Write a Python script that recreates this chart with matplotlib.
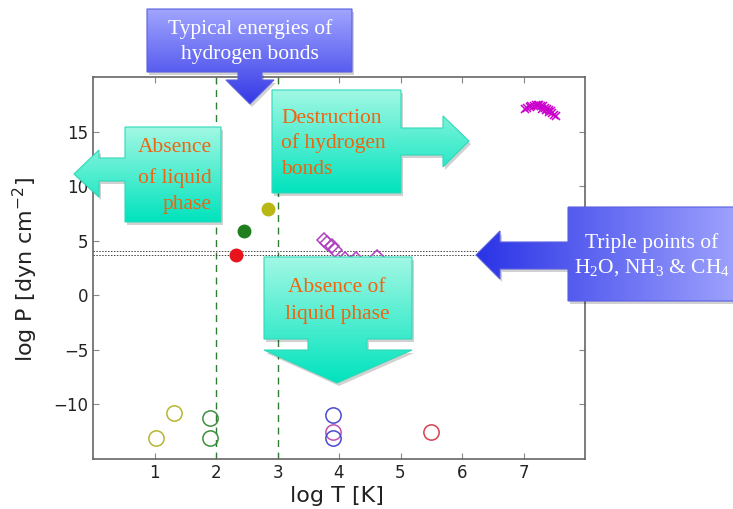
import numpy as np
import matplotlib
matplotlib.use('Agg')
import matplotlib.pyplot as plt
from matplotlib.patches import Polygon
from matplotlib.colors import to_rgb

# ---- data ----
t_filled = [2.33, 2.46, 2.85]
p_filled = [3.73, 5.85, 7.88]
c_filled = ['#e8141b', '#1f7f1f', '#b9b714']

t_open = [1.02, 1.31, 1.91, 1.91, 3.91, 3.91, 3.91, 5.50]
p_open = [-13.05, -10.75, -11.2, -13.1, -11.0, -12.5, -13.1, -12.55]
c_open = ['#b8b530', '#b8b530', '#3d8f3d', '#3d8f3d', '#4a4ad0', '#c050b0', '#4a4ad0', '#d84050']

t_diam = [3.75, 3.81, 3.88, 3.94, 4.09, 4.28, 4.61]
p_diam = [5.02, 4.75, 4.47, 4.19, 3.36, 3.36, 3.55]

t_cross = [7.02, 7.06, 7.10, 7.13, 7.17, 7.20, 7.23, 7.26, 7.29, 7.32, 7.35,
           7.38, 7.41, 7.44, 7.47, 7.50, 7.53, 7.30, 7.36, 7.42]
p_cross = [17.1, 17.2, 17.25, 17.3, 17.35, 17.4, 17.4, 17.4, 17.35, 17.3, 17.2,
           17.1, 17.0, 16.85, 16.7, 16.55, 16.4, 17.1, 16.95, 16.8]

h_bond_T = [2, 3]
triple_P = [4.05, 3.7]

xticks = [1, 2, 3, 4, 5, 6, 7]
yticks = [-10, -5, 0, 5, 10, 15]

fig = plt.figure(figsize=(7.33, 5.09), dpi=100)
ax = fig.add_axes([93/733, 1-459/509, 492/733, 382/509])

for t in h_bond_T:
    ax.axvline(t, color='#2e7d32', ls=(0, (5, 4)), lw=1)
for p in triple_P:
    ax.axhline(p, color='#444444', ls=(0, (1.5, 1.5)), lw=0.7)

for t, p, c in zip(t_open, p_open, c_open):
    ax.plot(t, p, 'o', ms=11, mfc='none', mec=c, mew=1.1)
for t, p, c in zip(t_filled, p_filled, c_filled):
    ax.plot(t, p, 'o', ms=9, color=c)
ax.plot(t_diam, p_diam, 'D', ms=7, mfc='none', mec='#b040c0', mew=1.1, ls='none')
ax.plot(t_cross, p_cross, 'x', ms=6, color='#cc00cc', mew=1.1, ls='none')

ax.set_xlim(0, 8)
ax.set_ylim(-15, 20)
ax.set_xticks(xticks)
ax.set_yticks(yticks)
ax.set_yticklabels(['\u221210', '\u22125', '0', '5', '10', '15'])
ax.tick_params(direction='in', top=True, right=True, length=4, color='#888888',
               labelsize=12, labelcolor='#222222')
for s in ax.spines.values():
    s.set_color('#666666')
    s.set_linewidth(1.2)
ax.set_xlabel('log T [K]', fontsize=16, color='#222222')
ax.set_ylabel(r'log P [dyn cm$^{-2}$]', fontsize=16, color='#222222')
ax.xaxis.set_label_coords(0.496, -0.07)
ax.yaxis.set_label_coords(-0.108, 0.495)

# ---- callout shapes (pixel coordinates, origin top-left) ----
ov = fig.add_axes([0, 0, 1, 1], zorder=5)
ov.axis('off')


def grad_shape(pts, c1, c2, edge, horizontal=False):
    sh = Polygon([(x + 2, y + 3) for x, y in pts], closed=True,
                 facecolor='#000000', alpha=0.18, lw=0)
    ov.add_patch(sh)
    poly = Polygon(pts, closed=True, facecolor='none', edgecolor=edge, lw=0.8, zorder=3)
    ov.add_patch(poly)
    xs = [p[0] for p in pts]
    ys = [p[1] for p in pts]
    a, b = np.array(to_rgb(c1)), np.array(to_rgb(c2))
    f = np.linspace(0, 1, 256)[:, None]
    cols = a + (b - a) * f
    if horizontal:
        img = cols[None, :, :]
    else:
        img = cols[:, None, :]
    im = ov.imshow(img, extent=(min(xs), max(xs), max(ys), min(ys)), origin='upper',
                   aspect='auto', zorder=2, interpolation='bilinear')
    im.set_clip_path(poly)


# typical energies (down arrow)
grad_shape([(147, 9), (352, 9), (352, 72), (262, 72), (262, 80), (274, 80), (250, 104),
            (226, 80), (238, 80), (238, 72), (147, 72)],
           '#a0a5ff', '#3438e6', '#5a5fe0')
# absence of liquid phase (left arrow)
grad_shape([(125, 127), (221, 127), (221, 222), (125, 222), (125, 181), (99, 181),
            (99, 197), (74, 174), (99, 150), (99, 158), (125, 158)],
           '#a2f8e4', '#00e3bd', '#30d8b8')
# destruction (right arrow)
grad_shape([(272, 90), (401, 90), (401, 128), (443, 128), (443, 116), (469, 141),
            (443, 167), (443, 155), (401, 155), (401, 193), (272, 193)],
           '#a2f8e4', '#00e3bd', '#30d8b8')
# absence (down arrow)
grad_shape([(264, 257), (412, 257), (412, 339), (367, 339), (367, 350), (412, 350),
            (337, 383), (264, 350), (308, 350), (308, 339), (264, 339)],
           '#a2f8e4', '#00e3bd', '#30d8b8')
# triple points (left arrow)
grad_shape([(568, 207), (760, 207), (760, 301), (568, 301), (568, 269), (500, 269),
            (500, 279), (476, 255), (500, 231), (500, 242), (568, 242)],
           '#2a33e6', '#a8acff', '#5a5fe0', horizontal=True)

ov.set_xlim(0, 733)
ov.set_ylim(509, 0)

serif = 'Liberation Serif'
orange = '#f0640f'
txt = dict(family=serif, fontsize=15.5, va='center', zorder=6)
ov.text(250, 29, 'Typical energies of', color='white', ha='center', **txt)
ov.text(250, 54, 'hydrogen bonds', color='white', ha='center', **txt)
ov.text(212, 148, 'Absence', color=orange, ha='right', **txt)
ov.text(212, 178, 'of liquid', color=orange, ha='right', **txt)
ov.text(212, 205, 'phase', color=orange, ha='right', **txt)
ov.text(281, 118, 'Destruction', color=orange, ha='left', **txt)
ov.text(281, 143, 'of hydrogen', color=orange, ha='left', **txt)
ov.text(281, 169, 'bonds', color=orange, ha='left', **txt)
ov.text(337, 287, 'Absence of', color=orange, ha='center', **txt)
ov.text(337, 315, 'liquid phase', color=orange, ha='center', **txt)
ov.text(652, 243, 'Triple points of', color='white', ha='center', **txt)
ov.text(652, 268, r'H$\mathregular{_2}$O, NH$\mathregular{_3}$ & CH$\mathregular{_4}$',
        color='white', ha='center', **txt)

fig.savefig('out.png', dpi=100)
